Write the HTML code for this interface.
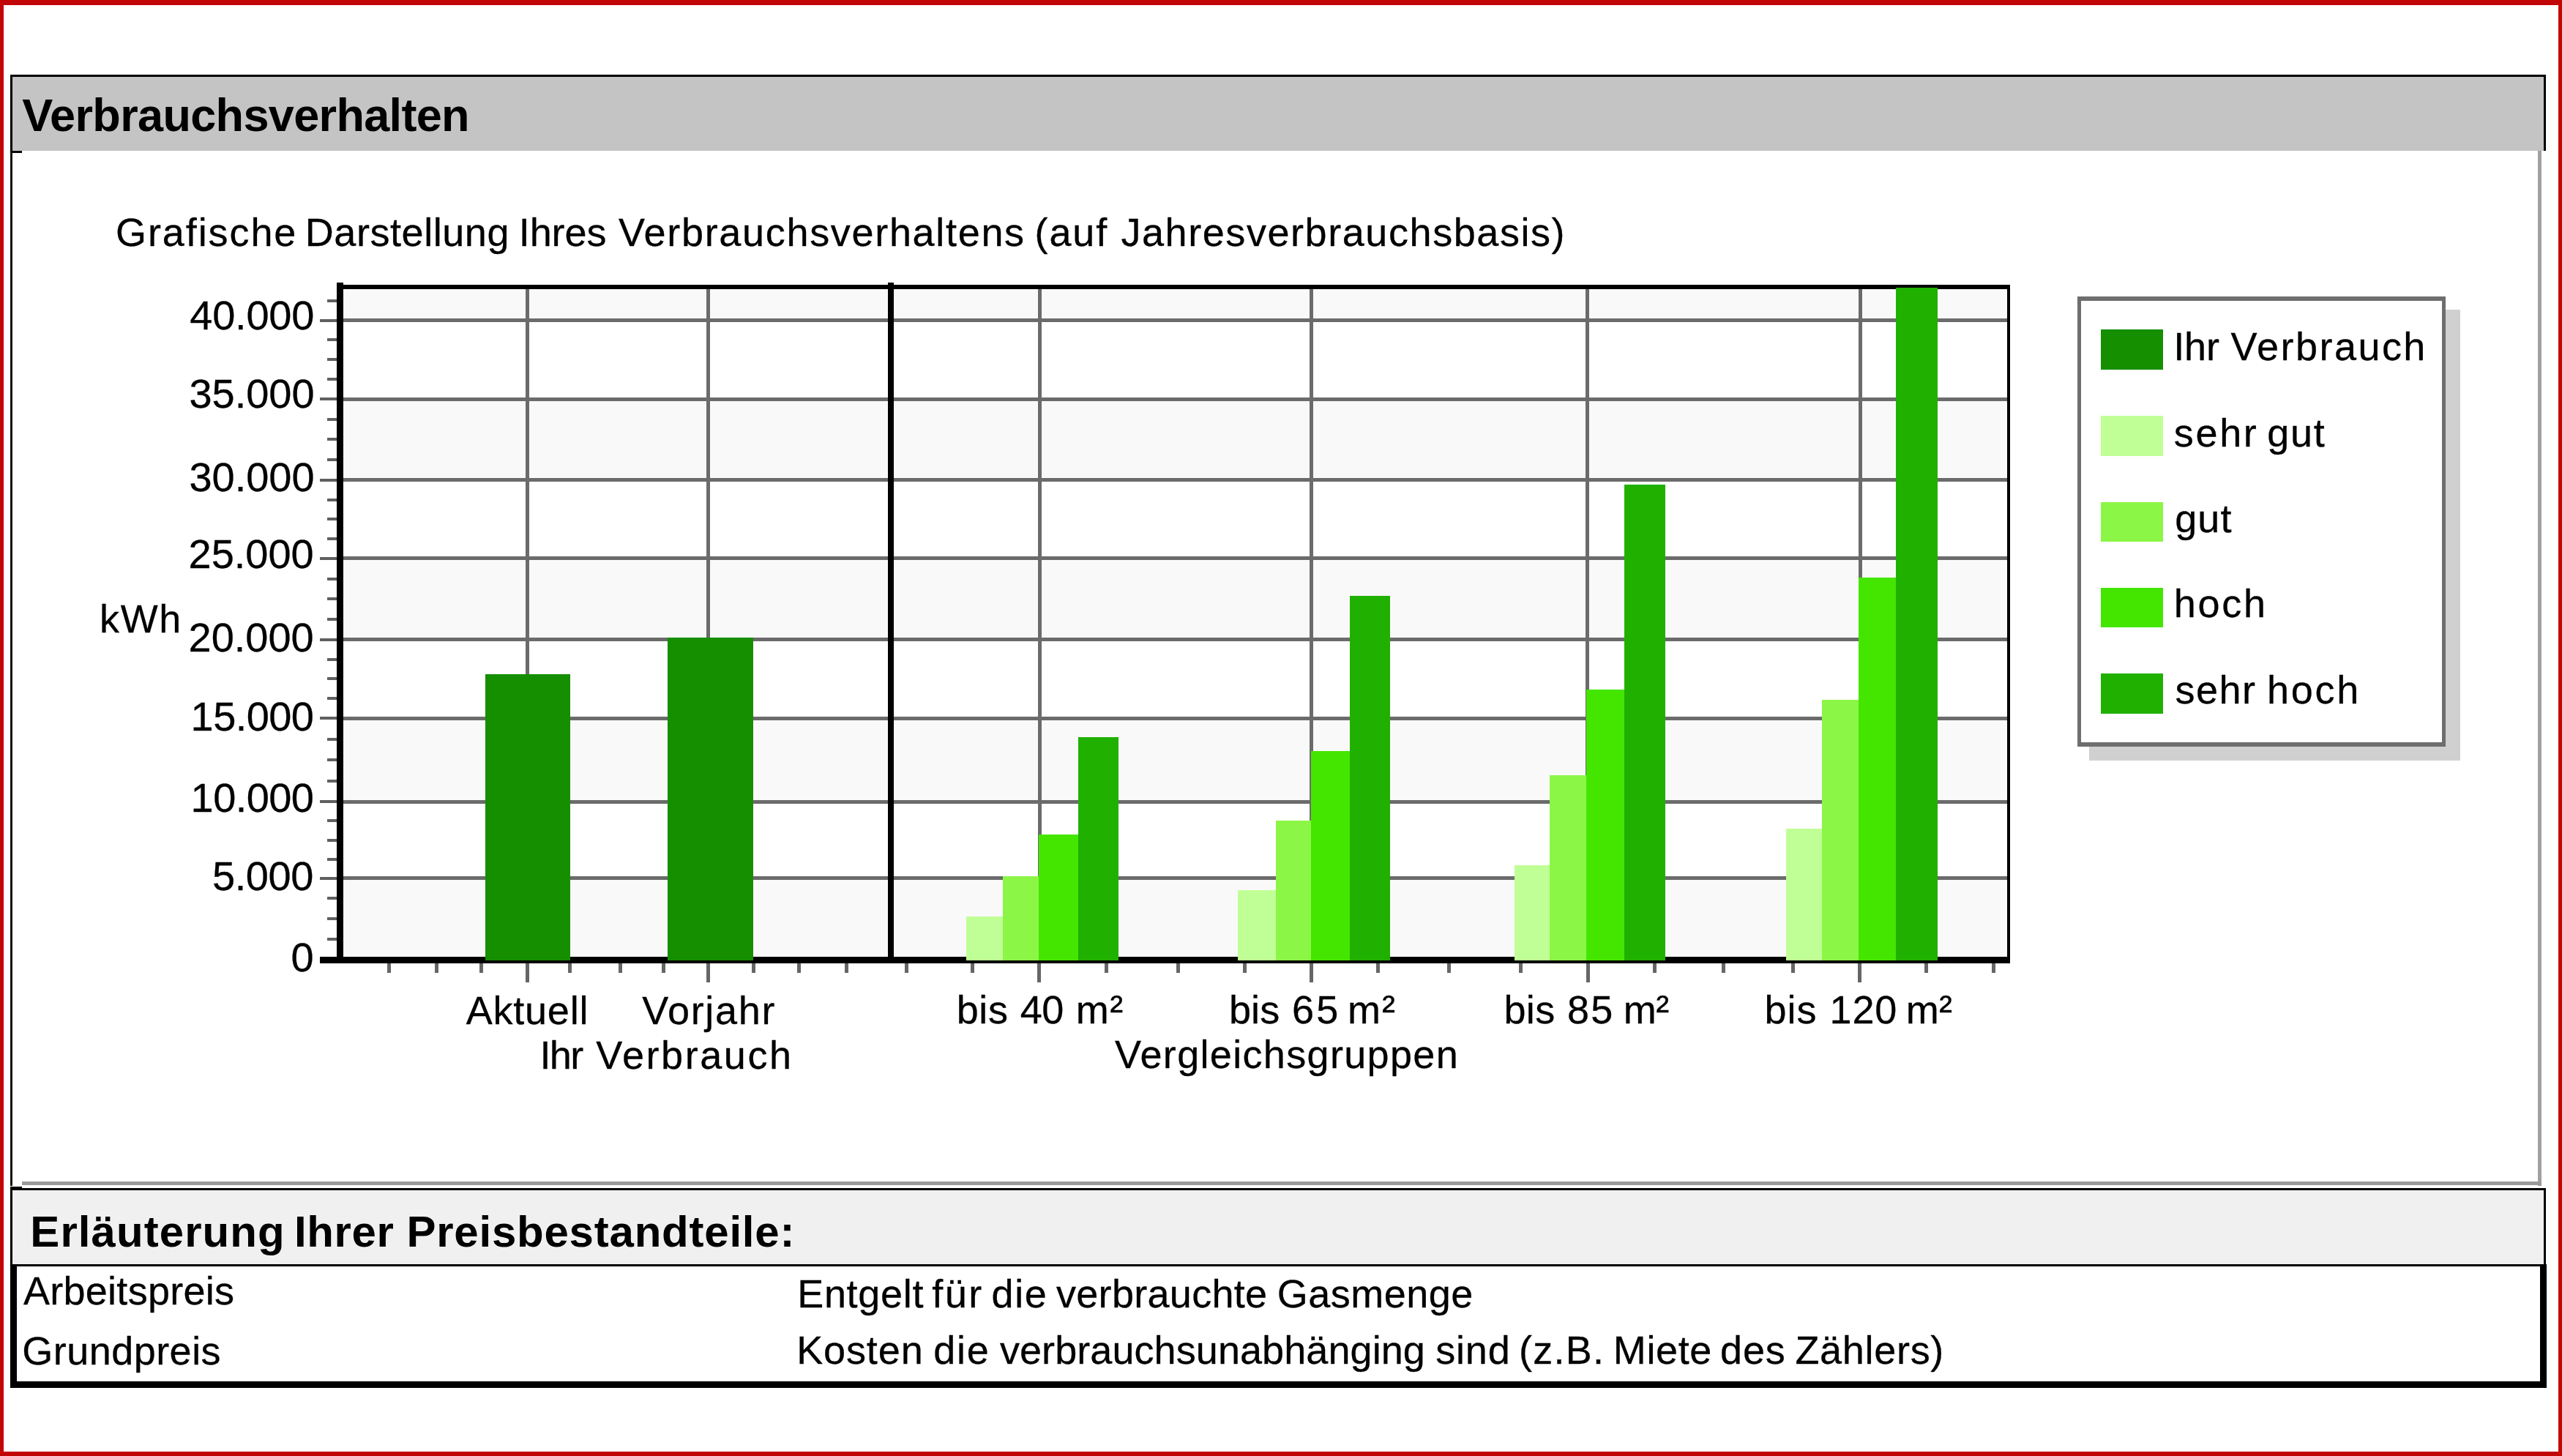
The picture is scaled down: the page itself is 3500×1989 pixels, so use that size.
<!DOCTYPE html>
<html lang="de"><head><meta charset="utf-8"><title>Verbrauchsverhalten</title>
<style>
html,body{margin:0;padding:0;background:#c20606;}
body{width:3500px;height:1989px;position:relative;overflow:hidden;font-family:"Liberation Sans", Arial, sans-serif;}
#page{position:absolute;left:0;top:0;width:3500px;height:1989px;background:#fff;}
.abs{position:absolute;box-sizing:border-box;}
#frame{left:0;top:0;width:3500px;height:1989px;border-style:solid;border-color:#c20606;border-width:7px 5px 6px 5px;}
#p1{left:14px;top:102px;width:3464px;height:1518px;}
#p1 .hd{position:absolute;left:0;top:0;width:3464px;height:104px;background:#c4c4c4;border-top:3px solid #000;border-left:3px solid #000;border-right:3px solid #000;box-sizing:border-box;}
#p1 .bd{position:absolute;left:0;top:104px;width:3458px;height:1414px;border-left:3px solid #111;border-right:5px solid #a0a0a0;box-sizing:border-box;}
#p2h{left:14px;top:1623px;width:3464px;height:107px;background:#f0f0f0;border:3.5px solid #000;}
#p2t{left:14px;top:1727px;width:3465px;height:169px;border:9px solid #000;border-top:3px solid #000;}
svg{position:absolute;left:0;top:0;}
svg rect{shape-rendering:crispEdges;}
svg text{font-family:"Liberation Sans", Arial, sans-serif;fill:#000;stroke:#000;stroke-width:0.3px;}
svg text.b{stroke-width:0px;}
</style></head>
<body>
<div id="page">
<div class="abs" id="frame"></div>
<div class="abs" id="p1"><div class="hd"></div><div class="bd"></div></div>
<div class="abs" id="p2h"></div>
<div class="abs" id="p2t"></div>
<svg width="3500" height="1989" viewBox="0 0 3500 1989">
<rect x="30" y="1614" width="3442" height="5" fill="#9a9a9a"/>
<rect x="14" y="205.5" width="16" height="3" fill="#000"/>
<rect x="14" y="1620.5" width="16" height="4" fill="#000"/>
<rect x="468.5" y="394.0" width="2273.5" height="43.5" fill="#f9f9f9"/>
<rect x="468.5" y="545.0" width="2273.5" height="110.8" fill="#f9f9f9"/>
<rect x="468.5" y="762.9" width="2273.5" height="110.7" fill="#f9f9f9"/>
<rect x="468.5" y="981.2" width="2273.5" height="114.2" fill="#f9f9f9"/>
<rect x="468.5" y="1199.5" width="2273.5" height="107.5" fill="#f9f9f9"/>
<rect x="468.5" y="435.0" width="2273.5" height="5.0" fill="#6b6b6b"/>
<rect x="468.5" y="542.5" width="2273.5" height="5.0" fill="#6b6b6b"/>
<rect x="468.5" y="653.3" width="2273.5" height="5.0" fill="#6b6b6b"/>
<rect x="468.5" y="760.4" width="2273.5" height="5.0" fill="#6b6b6b"/>
<rect x="468.5" y="871.1" width="2273.5" height="5.0" fill="#6b6b6b"/>
<rect x="468.5" y="978.7" width="2273.5" height="5.0" fill="#6b6b6b"/>
<rect x="468.5" y="1092.9" width="2273.5" height="5.0" fill="#6b6b6b"/>
<rect x="468.5" y="1197.0" width="2273.5" height="5.0" fill="#6b6b6b"/>
<rect x="717.8" y="394.0" width="5.0" height="913.0" fill="#6b6b6b"/>
<rect x="965.0" y="394.0" width="5.0" height="913.0" fill="#6b6b6b"/>
<rect x="1417.8" y="394.0" width="5.0" height="913.0" fill="#6b6b6b"/>
<rect x="1788.8" y="394.0" width="5.0" height="913.0" fill="#6b6b6b"/>
<rect x="2166.3" y="394.0" width="5.0" height="913.0" fill="#6b6b6b"/>
<rect x="2538.5" y="394.0" width="5.0" height="913.0" fill="#6b6b6b"/>
<rect x="460.0" y="388.5" width="2285.5" height="6.0" fill="#000"/>
<rect x="2742.0" y="388.5" width="3.5" height="927.5" fill="#000"/>
<rect x="460.0" y="385.5" width="8.5" height="930.5" fill="#000"/>
<rect x="437.0" y="1307.0" width="2309.0" height="9.0" fill="#000"/>
<rect x="1212.6" y="385.5" width="8.7" height="930.5" fill="#000"/>
<rect x="663.0" y="920.8" width="116.3" height="391.5" fill="#158e00"/>
<rect x="912.0" y="871.3" width="117.0" height="441.0" fill="#158e00"/>
<rect x="1320.4" y="1251.9" width="49.3" height="60.4" fill="#c0ff96"/>
<rect x="1369.7" y="1197.1" width="49.2" height="115.2" fill="#8cf646"/>
<rect x="1418.9" y="1140.2" width="53.6" height="172.1" fill="#44e600"/>
<rect x="1472.5" y="1007.3" width="55.3" height="305.0" fill="#20b000"/>
<rect x="1690.8" y="1216.3" width="51.8" height="96.0" fill="#c0ff96"/>
<rect x="1742.6" y="1120.7" width="48.0" height="191.6" fill="#8cf646"/>
<rect x="1790.6" y="1026.2" width="53.2" height="286.1" fill="#44e600"/>
<rect x="1843.8" y="813.7" width="55.2" height="498.6" fill="#20b000"/>
<rect x="2068.7" y="1182.4" width="48.3" height="129.9" fill="#c0ff96"/>
<rect x="2117.0" y="1059.3" width="49.5" height="253.0" fill="#8cf646"/>
<rect x="2166.5" y="942.2" width="52.7" height="370.1" fill="#44e600"/>
<rect x="2219.2" y="662.0" width="56.1" height="650.3" fill="#20b000"/>
<rect x="2439.7" y="1131.8" width="49.3" height="180.5" fill="#c0ff96"/>
<rect x="2489.0" y="956.4" width="50.0" height="355.9" fill="#8cf646"/>
<rect x="2539.0" y="788.9" width="51.4" height="523.4" fill="#44e600"/>
<rect x="2590.4" y="392.5" width="56.3" height="919.8" fill="#20b000"/>
<rect x="437.0" y="435.5" width="23.0" height="4.0" fill="#606060"/>
<rect x="437.0" y="543.0" width="23.0" height="4.0" fill="#606060"/>
<rect x="437.0" y="653.8" width="23.0" height="4.0" fill="#606060"/>
<rect x="437.0" y="760.9" width="23.0" height="4.0" fill="#606060"/>
<rect x="437.0" y="871.6" width="23.0" height="4.0" fill="#606060"/>
<rect x="437.0" y="979.2" width="23.0" height="4.0" fill="#606060"/>
<rect x="437.0" y="1093.4" width="23.0" height="4.0" fill="#606060"/>
<rect x="437.0" y="1197.5" width="23.0" height="4.0" fill="#606060"/>
<rect x="447.0" y="1281.1" width="13.0" height="4.0" fill="#606060"/>
<rect x="447.0" y="1253.2" width="13.0" height="4.0" fill="#606060"/>
<rect x="447.0" y="1225.4" width="13.0" height="4.0" fill="#606060"/>
<rect x="447.0" y="1171.5" width="13.0" height="4.0" fill="#606060"/>
<rect x="447.0" y="1145.5" width="13.0" height="4.0" fill="#606060"/>
<rect x="447.0" y="1119.4" width="13.0" height="4.0" fill="#606060"/>
<rect x="447.0" y="1064.9" width="13.0" height="4.0" fill="#606060"/>
<rect x="447.0" y="1036.3" width="13.0" height="4.0" fill="#606060"/>
<rect x="447.0" y="1007.8" width="13.0" height="4.0" fill="#606060"/>
<rect x="447.0" y="952.3" width="13.0" height="4.0" fill="#606060"/>
<rect x="447.0" y="925.4" width="13.0" height="4.0" fill="#606060"/>
<rect x="447.0" y="898.5" width="13.0" height="4.0" fill="#606060"/>
<rect x="447.0" y="843.9" width="13.0" height="4.0" fill="#606060"/>
<rect x="447.0" y="816.2" width="13.0" height="4.0" fill="#606060"/>
<rect x="447.0" y="788.6" width="13.0" height="4.0" fill="#606060"/>
<rect x="447.0" y="734.1" width="13.0" height="4.0" fill="#606060"/>
<rect x="447.0" y="707.3" width="13.0" height="4.0" fill="#606060"/>
<rect x="447.0" y="680.6" width="13.0" height="4.0" fill="#606060"/>
<rect x="447.0" y="626.1" width="13.0" height="4.0" fill="#606060"/>
<rect x="447.0" y="598.4" width="13.0" height="4.0" fill="#606060"/>
<rect x="447.0" y="570.7" width="13.0" height="4.0" fill="#606060"/>
<rect x="447.0" y="516.1" width="13.0" height="4.0" fill="#606060"/>
<rect x="447.0" y="489.2" width="13.0" height="4.0" fill="#606060"/>
<rect x="447.0" y="462.4" width="13.0" height="4.0" fill="#606060"/>
<rect x="447.0" y="408.6" width="13.0" height="4.0" fill="#606060"/>
<rect x="717.8" y="1316.0" width="5.0" height="25.5" fill="#666"/>
<rect x="965.0" y="1316.0" width="5.0" height="25.5" fill="#666"/>
<rect x="1417.2" y="1316.0" width="5.0" height="25.5" fill="#666"/>
<rect x="1789.0" y="1316.0" width="5.0" height="25.5" fill="#666"/>
<rect x="2166.6" y="1316.0" width="5.0" height="25.5" fill="#666"/>
<rect x="2538.0" y="1316.0" width="5.0" height="25.5" fill="#666"/>
<rect x="529.1" y="1316.0" width="5.0" height="12.5" fill="#666"/>
<rect x="594.0" y="1316.0" width="5.0" height="12.5" fill="#666"/>
<rect x="655.4" y="1316.0" width="5.0" height="12.5" fill="#666"/>
<rect x="776.0" y="1316.0" width="5.0" height="12.5" fill="#666"/>
<rect x="844.8" y="1316.0" width="5.0" height="12.5" fill="#666"/>
<rect x="903.6" y="1316.0" width="5.0" height="12.5" fill="#666"/>
<rect x="1026.7" y="1316.0" width="5.0" height="12.5" fill="#666"/>
<rect x="1089.1" y="1316.0" width="5.0" height="12.5" fill="#666"/>
<rect x="1154.3" y="1316.0" width="5.0" height="12.5" fill="#666"/>
<rect x="1235.6" y="1316.0" width="5.0" height="12.5" fill="#666"/>
<rect x="1325.8" y="1316.0" width="5.0" height="12.5" fill="#666"/>
<rect x="1508.5" y="1316.0" width="5.0" height="12.5" fill="#666"/>
<rect x="1606.9" y="1316.0" width="5.0" height="12.5" fill="#666"/>
<rect x="1697.7" y="1316.0" width="5.0" height="12.5" fill="#666"/>
<rect x="1880.4" y="1316.0" width="5.0" height="12.5" fill="#666"/>
<rect x="1977.3" y="1316.0" width="5.0" height="12.5" fill="#666"/>
<rect x="2075.2" y="1316.0" width="5.0" height="12.5" fill="#666"/>
<rect x="2258.0" y="1316.0" width="5.0" height="12.5" fill="#666"/>
<rect x="2352.0" y="1316.0" width="5.0" height="12.5" fill="#666"/>
<rect x="2446.9" y="1316.0" width="5.0" height="12.5" fill="#666"/>
<rect x="2629.4" y="1316.0" width="5.0" height="12.5" fill="#666"/>
<rect x="2721.3" y="1316.0" width="5.0" height="12.5" fill="#666"/>
<rect x="2853.5" y="423.0" width="507.0" height="615.5" fill="#d0d0d0"/>
<rect x="2837.5" y="405.0" width="503.5" height="615.0" fill="#6e6e6e"/>
<rect x="2843.0" y="410.5" width="492.5" height="603.5" fill="#fff"/>
<rect x="2869.5" y="450.4" width="85.1" height="54.5" fill="#158e00"/>
<rect x="2869.5" y="568.4" width="85.1" height="54.5" fill="#c0ff96"/>
<rect x="2869.5" y="685.6" width="85.1" height="54.5" fill="#8cf646"/>
<rect x="2869.5" y="802.6" width="85.1" height="54.5" fill="#44e600"/>
<rect x="2869.5" y="920.0" width="85.1" height="54.5" fill="#20b000"/>
<text y="178.8" font-size="63" font-weight="700" class="b"><tspan x="30.2" textLength="611.4" lengthAdjust="spacing">Verbrauchsverhalten</tspan></text>
<text y="335.5" font-size="54"><tspan x="158.0" textLength="246.4" lengthAdjust="spacing">Grafische</tspan> <tspan x="416.8" textLength="278.7" lengthAdjust="spacing">Darstellung</tspan> <tspan x="708.7" textLength="119.8" lengthAdjust="spacing">Ihres</tspan> <tspan x="844.9" textLength="554.2" lengthAdjust="spacing">Verbrauchsverhaltens</tspan> <tspan x="1413.5" textLength="98.8" lengthAdjust="spacing">(auf</tspan> <tspan x="1531.4" textLength="606.2" lengthAdjust="spacing">Jahresverbrauchsbasis)</tspan></text>
<text y="450.4" font-size="56"><tspan x="259.3" textLength="170.1" lengthAdjust="spacing">40.000</tspan></text>
<text y="557.0" font-size="56"><tspan x="258.4" textLength="171.2" lengthAdjust="spacing">35.000</tspan></text>
<text y="671.4" font-size="56"><tspan x="258.4" textLength="171.2" lengthAdjust="spacing">30.000</tspan></text>
<text y="775.9" font-size="56"><tspan x="257.5" textLength="171.2" lengthAdjust="spacing">25.000</tspan></text>
<text y="890.2" font-size="56"><tspan x="257.5" textLength="171.2" lengthAdjust="spacing">20.000</tspan></text>
<text y="998.0" font-size="56"><tspan x="260.6" textLength="168.3" lengthAdjust="spacing">15.000</tspan></text>
<text y="1109.1" font-size="56"><tspan x="260.6" textLength="168.3" lengthAdjust="spacing">10.000</tspan></text>
<text y="1215.7" font-size="56"><tspan x="289.9" textLength="138.6" lengthAdjust="spacing">5.000</tspan></text>
<text y="1326.8" font-size="56"><tspan x="397.6">0</tspan></text>
<text y="864.2" font-size="54"><tspan x="136.1" textLength="111.2" lengthAdjust="spacing">kWh</tspan></text>
<text y="1398.9" font-size="54"><tspan x="636.8" textLength="166.6" lengthAdjust="spacing">Aktuell</tspan></text>
<text y="1398.9" font-size="54"><tspan x="877.2" textLength="181.2" lengthAdjust="spacing">Vorjahr</tspan></text>
<text y="1460.0" font-size="54"><tspan x="737.4" textLength="59.8" lengthAdjust="spacing">Ihr</tspan> <tspan x="814.3" textLength="266.8" lengthAdjust="spacing">Verbrauch</tspan></text>
<text y="1398.4" font-size="54"><tspan x="1306.7" textLength="70.3" lengthAdjust="spacing">bis</tspan> <tspan x="1393.7" textLength="59.7" lengthAdjust="spacing">40</tspan> <tspan x="1469.7" textLength="64.6" lengthAdjust="spacing">m²</tspan></text>
<text y="1398.4" font-size="54"><tspan x="1678.9" textLength="69.4" lengthAdjust="spacing">bis</tspan> <tspan x="1765.0" textLength="63.3" lengthAdjust="spacing">65</tspan> <tspan x="1841.0" textLength="65.1" lengthAdjust="spacing">m²</tspan></text>
<text y="1397.9" font-size="54"><tspan x="2054.4" textLength="69.8" lengthAdjust="spacing">bis</tspan> <tspan x="2141.0" textLength="62.4" lengthAdjust="spacing">85</tspan> <tspan x="2217.8" textLength="62.4" lengthAdjust="spacing">m²</tspan></text>
<text y="1397.9" font-size="54"><tspan x="2410.4" textLength="71.0" lengthAdjust="spacing">bis</tspan> <tspan x="2499.6" textLength="91.8" lengthAdjust="spacing">120</tspan> <tspan x="2603.7" textLength="63.4" lengthAdjust="spacing">m²</tspan></text>
<text y="1458.8" font-size="54"><tspan x="1523.1" textLength="468.6" lengthAdjust="spacing">Vergleichsgruppen</tspan></text>
<text y="492.2" font-size="54"><tspan x="2969.3" textLength="62.6" lengthAdjust="spacing">Ihr</tspan> <tspan x="3047.5" textLength="265.9" lengthAdjust="spacing">Verbrauch</tspan></text>
<text y="609.8" font-size="54"><tspan x="2969.8" textLength="113.0" lengthAdjust="spacing">sehr</tspan> <tspan x="3097.3" textLength="78.5" lengthAdjust="spacing">gut</tspan></text>
<text y="726.5" font-size="54"><tspan x="2971.2" textLength="77.3" lengthAdjust="spacing">gut</tspan></text>
<text y="843.4" font-size="54"><tspan x="2969.7" textLength="125.4" lengthAdjust="spacing">hoch</tspan></text>
<text y="960.8" font-size="54"><tspan x="2971.5" textLength="109.4" lengthAdjust="spacing">sehr</tspan> <tspan x="3097.0" textLength="125.4" lengthAdjust="spacing">hoch</tspan></text>
<text y="1703.3" font-size="60" font-weight="700" class="b"><tspan x="41.3" textLength="347.4" lengthAdjust="spacing">Erläuterung</tspan> <tspan x="402.0" textLength="135.9" lengthAdjust="spacing">Ihrer</tspan> <tspan x="555.4" textLength="530.0" lengthAdjust="spacing">Preisbestandteile:</tspan></text>
<text y="1782.4" font-size="54"><tspan x="31.9" textLength="288.2" lengthAdjust="spacing">Arbeitspreis</tspan></text>
<text y="1863.8" font-size="54"><tspan x="30.2" textLength="271.4" lengthAdjust="spacing">Grundpreis</tspan></text>
<text y="1785.6" font-size="54"><tspan x="1089.2" textLength="172.2" lengthAdjust="spacing">Entgelt</tspan> <tspan x="1273.3" textLength="67.9" lengthAdjust="spacing">für</tspan> <tspan x="1354.4" textLength="75.5" lengthAdjust="spacing">die</tspan> <tspan x="1443.0" textLength="288.1" lengthAdjust="spacing">verbrauchte</tspan> <tspan x="1744.7" textLength="267.7" lengthAdjust="spacing">Gasmenge</tspan></text>
<text y="1863.2" font-size="54"><tspan x="1088.2" textLength="172.5" lengthAdjust="spacing">Kosten</tspan> <tspan x="1275.3" textLength="75.5" lengthAdjust="spacing">die</tspan> <tspan x="1365.9" textLength="581.0" lengthAdjust="spacing">verbrauchsunabhänging</tspan> <tspan x="1961.2" textLength="101.5" lengthAdjust="spacing">sind</tspan> <tspan x="2074.9" textLength="116.2" lengthAdjust="spacing">(z.B.</tspan> <tspan x="2203.8" textLength="134.5" lengthAdjust="spacing">Miete</tspan> <tspan x="2350.0" textLength="88.8" lengthAdjust="spacing">des</tspan> <tspan x="2452.4" textLength="202.9" lengthAdjust="spacing">Zählers)</tspan></text>
</svg>
</div>
</body></html>
